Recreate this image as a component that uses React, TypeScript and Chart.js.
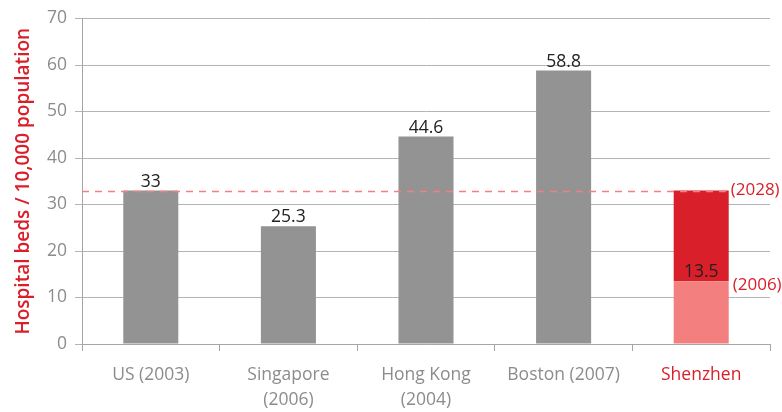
import React, { useEffect, useRef } from "react";
import { Chart, registerables } from "chart.js";

Chart.register(...registerables);

const categories: (string | string[])[] = [
  "US (2003)",
  ["Singapore", "(2006)"],
  ["Hong Kong", "(2004)"],
  "Boston (2007)",
  "Shenzhen",
];
const baseValues: number[] = [33, 25.3, 44.6, 58.8, 13.5];
const valueLabels: string[] = ["33", "25.3", "44.6", "58.8", "13.5"];
const shenzhenTarget = 33;
const shenzhenCurrent = 13.5;
const targetValues: (number | null)[] = [null, null, null, null, shenzhenTarget - shenzhenCurrent];
const yTicks: number[] = [0, 10, 20, 30, 40, 50, 60, 70];
const yTitle = "Hospital beds / 10,000 population";
const annotationTarget = "(2028)";
const annotationCurrent = "(2006)";

const GRAY = "#939393";
const RED = "#d9202a";
const PINK = "#f47f7f";
const TICK_GRAY = "#8c8c8c";
const FONT = "'Open Sans', 'Noto Sans', sans-serif";

const overlayPlugin = {
  id: "overlay",
  afterDatasetsDraw(chart: any) {
    const ctx = chart.ctx;
    const y = chart.scales.y;
    const area = chart.chartArea;
    const meta0 = chart.getDatasetMeta(0);
    const last = meta0.data[meta0.data.length - 1];
    const barRight = last.x + last.width / 2;

    // dashed reference line
    ctx.save();
    ctx.strokeStyle = PINK;
    ctx.lineWidth = 1.5;
    ctx.setLineDash([7, 6]);
    const yT = Math.round(y.getPixelForValue(shenzhenTarget)) + 0.5;
    ctx.beginPath();
    ctx.moveTo(area.left, yT);
    ctx.lineTo(barRight, yT);
    ctx.stroke();
    ctx.restore();

    // value labels
    ctx.save();
    ctx.font = `17.5px ${FONT}`;
    ctx.fillStyle = "#222222";
    ctx.textAlign = "center";
    ctx.textBaseline = "alphabetic";
    meta0.data.forEach((bar: any, i: number) => {
      ctx.fillText(valueLabels[i], bar.x, bar.y - 4);
    });
    ctx.restore();

    // annotations
    ctx.save();
    ctx.font = `17px ${FONT}`;
    ctx.fillStyle = RED;
    ctx.textAlign = "left";
    ctx.textBaseline = "middle";
    ctx.fillText(annotationTarget, barRight + 2, y.getPixelForValue(shenzhenTarget));
    ctx.fillText(annotationCurrent, barRight + 4, y.getPixelForValue(shenzhenCurrent) + 4);
    ctx.restore();
  },
};

export default function App() {
  const ref = useRef<HTMLCanvasElement | null>(null);
  useEffect(() => {
    document.body.style.margin = "0";
    if (!ref.current) return;
    const chart = new Chart(ref.current, {
      type: "bar",
      data: {
        labels: categories as any,
        datasets: [
          {
            data: baseValues,
            backgroundColor: baseValues.map((_, i) => (i === baseValues.length - 1 ? PINK : GRAY)),
            barPercentage: 0.8,
            categoryPercentage: 0.5,
          },
          {
            data: targetValues as any,
            backgroundColor: RED,
            barPercentage: 0.8,
            categoryPercentage: 0.5,
          },
        ],
      },
      options: {
        animation: false,
        responsive: false,
        maintainAspectRatio: false,
        layout: { padding: { top: 17, right: 12, left: 0, bottom: 0 } },
        plugins: { legend: { display: false }, tooltip: { enabled: false } },
        scales: {
          x: {
            stacked: true,
            afterFit: (s: any) => {
              s.height = 68;
            },
            grid: {
              offset: true,
              drawOnChartArea: false,
              drawTicks: true,
              tickLength: 7,
              color: "#a6a6a6",
            },
            border: { color: "#a6a6a6", width: 1 },
            ticks: {
              color: (c: any) => (c.index === categories.length - 1 ? RED : TICK_GRAY),
              font: { family: FONT, size: 17.5, lineHeight: 1.4 },
              padding: 12,
              maxRotation: 0,
              autoSkip: false,
            },
          },
          y: {
            stacked: true,
            min: 0,
            max: 70,
            afterBuildTicks: (s: any) => {
              s.ticks = yTicks.map((v) => ({ value: v }));
            },
            afterFit: (s: any) => {
              s.width = 82;
            },
            grid: {
              color: "#b4b4b4",
              tickLength: 7,
              lineWidth: 1,
            },
            border: { color: "#a6a6a6", width: 1 },
            ticks: {
              color: TICK_GRAY,
              font: { family: FONT, size: 17.5 },
              padding: 8,
            },
            title: {
              display: true,
              text: yTitle,
              color: RED,
              font: { family: FONT, size: 19, weight: "600" as any },
              padding: { top: 12, bottom: 0 },
            },
          },
        },
      },
      plugins: [overlayPlugin],
    });
    return () => chart.destroy();
  }, []);
  return (
    <div style={{ width: 782, height: 412 }}>
      <canvas ref={ref} width={782} height={412} style={{ width: 782, height: 412, display: "block" }} />
    </div>
  );
}
